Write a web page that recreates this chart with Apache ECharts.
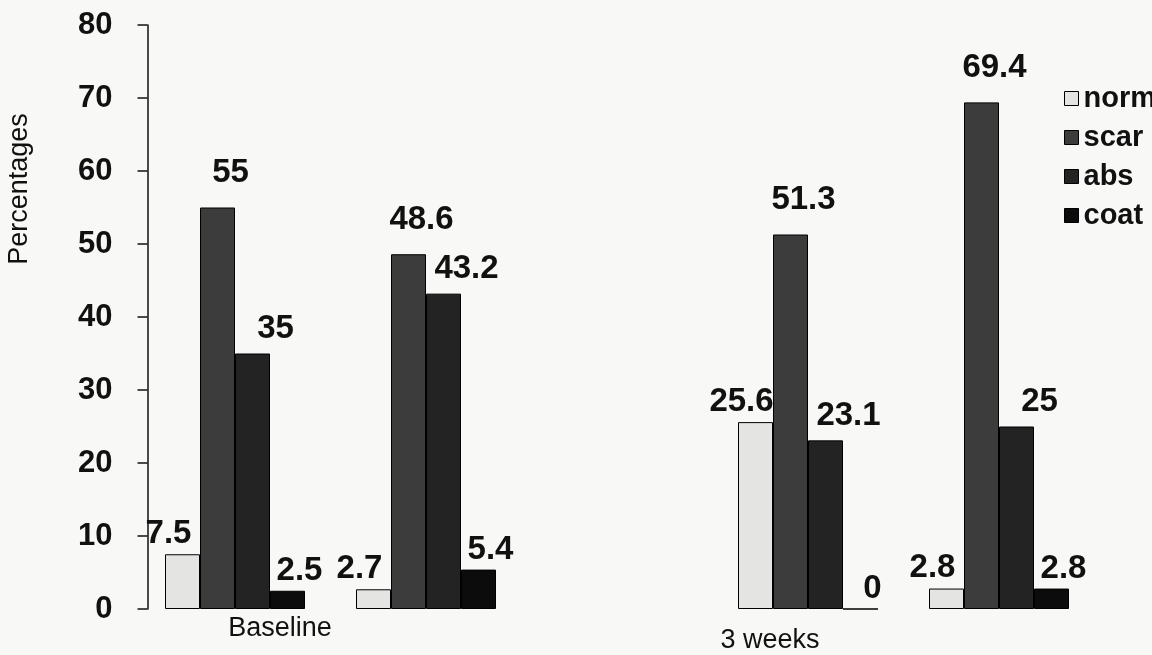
<!DOCTYPE html>
<html>
<head>
<meta charset="utf-8">
<script src="https://cdn.jsdelivr.net/npm/echarts@6/dist/echarts.min.js"></script>
<style>
  html, body { margin: 0; padding: 0; background: #f8f8f6; }
  #chart { width: 1152px; height: 655px; }
</style>
</head>
<body>
<div id="chart"></div>
<script>
// Category slots (the middle slot is the gap between the two time points)
const categories = ['g1', 'g2', 'gap', 'g3', 'g4'];
const xTickLabels = ['Baseline', '', '', '3 weeks', ''];
const yTickValues = [0, 10, 20, 30, 40, 50, 60, 70, 80];

const seriesNames = ['norm', 'scar', 'abs', 'coat'];
const normalVals = [7.5, 2.7, null, 25.6, 2.8];
const scarVals   = [55, 48.6, null, 51.3, 69.4];
const absVals    = [35, 43.2, null, 23.1, 25];
const coatVals   = [2.5, 5.4, null, 0, 2.8];

const seriesData = [normalVals, scarVals, absVals, coatVals];
const colors = ['#e4e4e2', '#3c3c3c', '#232323', '#0c0c0c'];
const labelOffsets = [[-14, 0], [13, 0], [23, 0], [12, 0]];
const labelDistances = [4, 18, 8, 3];

const font = '"Liberation Sans", Arial, sans-serif';
const chart = echarts.init(document.getElementById('chart'), null, { renderer: 'canvas' });

const option = {
  backgroundColor: '#f8f8f6',
  animation: false,
  grid: { left: 139.5, right: 57.5, top: 25, bottom: 46, containLabel: false },
  legend: {
    orient: 'vertical',
    left: 1059,
    top: 79,
    itemWidth: 14,
    itemHeight: 14,
    itemGap: 10,
    icon: 'rect',
    data: seriesNames,
    itemStyle: { borderColor: '#000', borderWidth: 1 },
    textStyle: { fontFamily: font, fontWeight: 'bold', fontSize: 29, color: '#111', lineHeight: 28 }
  },
  xAxis: {
    type: 'category',
    data: categories,
    axisLine: { show: false },
    axisTick: { show: false },
    axisLabel: {
      interval: 0,
      margin: 6,
      formatter: function (v, i) {
        const t = xTickLabels[i];
        if (!t) return '';
        return i === 0 ? '{b|' + t + '}' : '{w|' + t + '}';
      },
      rich: {
        b: { fontFamily: font, fontSize: 27, color: '#111', padding: [0, 0, 0, 90] },
        w: { fontFamily: font, fontSize: 27, color: '#111', padding: [12, 76, 0, 0] }
      }
    }
  },
  yAxis: {
    type: 'value',
    min: yTickValues[0],
    max: yTickValues[yTickValues.length - 1],
    interval: 10,
    offset: -8,
    splitLine: { show: false },
    axisLine: { show: true, lineStyle: { color: '#111', width: 1.5 } },
    axisTick: { show: true, inside: false, length: 10, lineStyle: { color: '#111', width: 1.5 } },
    axisLabel: { margin: 35, fontFamily: font, fontWeight: 'bold', fontSize: 31, color: '#111' }
  },
  graphic: [{
    type: 'text',
    x: 20,
    y: 189,
    rotation: Math.PI / 2,
    style: {
      text: 'Percentages',
      font: '27px ' + font,
      fill: '#111',
      textAlign: 'center',
      textVerticalAlign: 'middle'
    }
  }],
  series: seriesNames.map(function (name, k) {
    return {
      name: name,
      type: 'bar',
      data: seriesData[k],
      barWidth: 35,
      barGap: '0%',
      itemStyle: { color: colors[k], borderColor: '#000', borderWidth: 1 },
      label: {
        show: true,
        position: 'top',
        distance: labelDistances[k],
        offset: labelOffsets[k],
        fontFamily: font,
        fontWeight: 'bold',
        fontSize: 33,
        color: '#111'
      }
    };
  })
};
chart.setOption(option);
</script>
</body>
</html>
